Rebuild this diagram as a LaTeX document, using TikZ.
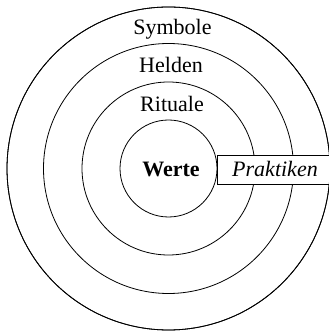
\documentclass[tikz,border=0pt]{standalone}
\usepackage{fontspec}
\setmainfont{Liberation Serif}
\begin{document}
\begin{tikzpicture}[x=1pt,y=1pt,
  ring/.style={circle,draw,line width=0.8pt,inner sep=0pt},
  lbl/.style={anchor=base,inner sep=0pt,font=\fontsize{22}{26}\selectfont}]
\useasboundingbox (0,0) rectangle (329,332);
\coordinate (ctr) at (168.5,163.5);
\node[ring,minimum size=97pt] (werteRing) at (ctr) {};
\node[ring,minimum size=173pt] (ritualeRing) at (ctr) {};
\node[ring,minimum size=250pt] (heldenRing) at (ctr) {};
\node[ring,minimum size=323pt] (symboleRing) at (ctr) {};
% Praktiken band
\coordinate (bl) at (217,148);
\coordinate (tl) at (217,177);
\begin{scope}
  \clip (ctr) circle (161.5);
  \fill[white] (bl) rectangle (345,177);
  \draw[line width=0.8pt] (tl) -- ++(130,0);
  \draw[line width=0.8pt] (bl) -- ++(130,0);
\end{scope}
\draw[line width=0.8pt] (bl) -- (tl);
\node[ring,minimum size=323pt] at (ctr) {};
\node[lbl] (symbole) at (172.5,297) {Symbole};
\node[lbl] (helden) at (171,259.3) {Helden};
\node[lbl] (rituale) at (172,220.3) {Rituale};
\node[lbl,font=\fontsize{22}{26}\selectfont\bfseries] (werte) at (171,155.3) {Werte};
\node[lbl,font=\fontsize{22}{26}\selectfont\itshape] (praktiken) at (275,155.3) {Praktiken};
\end{tikzpicture}
\end{document}
